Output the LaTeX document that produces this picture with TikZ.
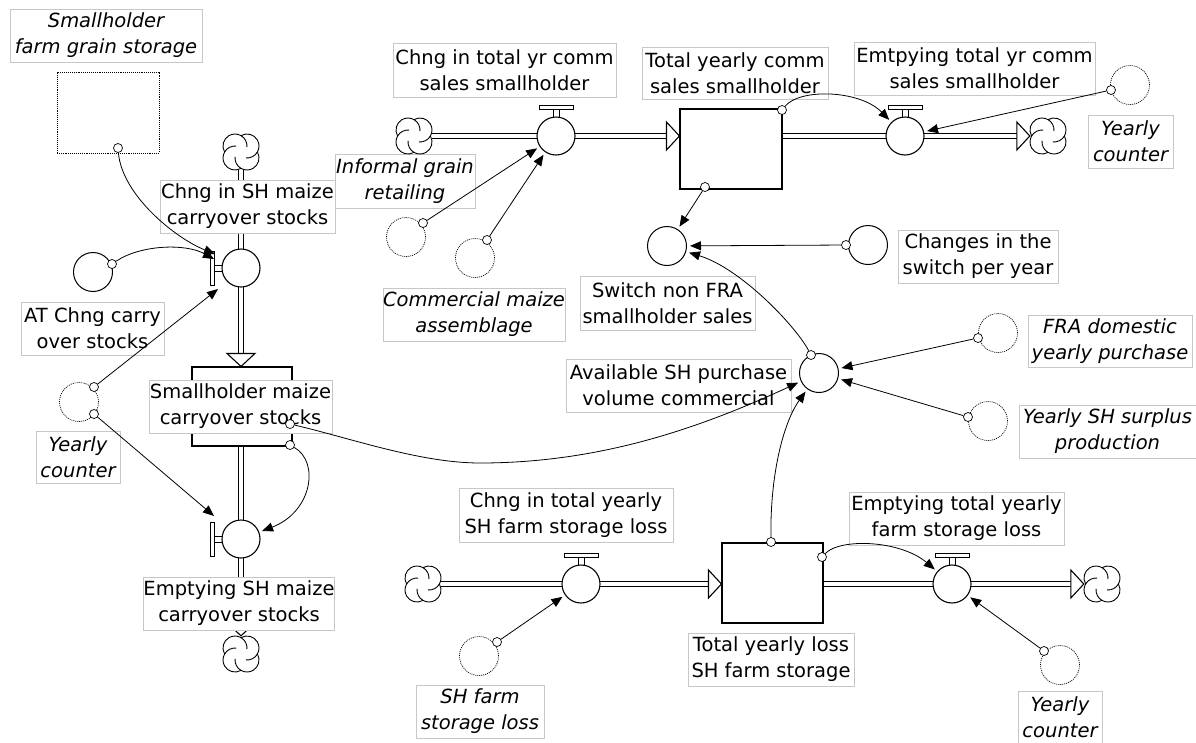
\documentclass[tikz,border=0pt]{standalone}
\usepackage{fontspec}
\setmainfont{DejaVu Sans}
\usetikzlibrary{arrows.meta,calc}
\tikzset{
 lab/.style={draw=black!22, fill=white, line width=0.7pt, inner sep=0pt, align=center, font=\fontsize{19.5}{26}\selectfont},
 ilab/.style={lab, font=\fontsize{19.5}{26}\selectfont\itshape},
 stockbox/.style={draw, fill=white, line width=1.1pt, inner sep=0pt},
 valve/.style={circle, draw, fill=white, line width=1.1pt, minimum size=38pt, inner sep=0pt},
 auxc/.style={circle, draw, fill=white, line width=1pt, minimum size=39pt, inner sep=0pt},
 ghostc/.style={auxc, densely dotted, line width=0.7pt},
 cn/.style={circle, draw, fill=white, line width=0.7pt, minimum size=9pt, inner sep=0pt},
 cloudnode/.style={circle, minimum size=36pt, inner sep=0pt},
 pipe/.style={draw, line width=1.1pt, double=white, double distance=4pt},
 conn/.style={draw, line width=0.8pt, -{Triangle[length=11pt,width=9pt]}, shorten >=3pt},
 cloudpic/.pic={
  \draw[line width=0.9pt, fill=white] (0,-16.39) arc[start angle=240, end angle=390, radius=12]
     arc[start angle=-30, end angle=120, radius=12]
     arc[start angle=60, end angle=210, radius=12]
     arc[start angle=150, end angle=300, radius=12] -- cycle;
  \draw[line width=0.9pt] (16.39,0) arc[start angle=30, end angle=95, radius=12];
  \draw[line width=0.9pt] (0,16.39) arc[start angle=120, end angle=185, radius=12];
  \draw[line width=0.9pt] (-16.39,0) arc[start angle=210, end angle=275, radius=12];
  \draw[line width=0.9pt] (0,-16.39) arc[start angle=300, end angle=365, radius=12];
 },
 pipehead/.pic={\draw[line width=1.1pt, fill=white, line join=miter] (-13,-14) -- (0,0) -- (-13,14) -- cycle;},
 vhandle/.pic={\draw[line width=0.9pt] (-3,-27) -- (-3,-18.5) (3,-27) -- (3,-18.5);
   \draw[line width=0.9pt, fill=white] (-17,-31) rectangle (17,-27);},
}
\begin{document}
\begin{tikzpicture}[x=1pt,y=-1pt]
\useasboundingbox (0,0) rectangle (1196,742);

% clouds (positions)
\node[cloudnode] (c1) at (241,152) {};
\node[cloudnode] (c2) at (241,654) {};
\node[cloudnode] (c3) at (414,136) {};
\node[cloudnode] (c4) at (1048,136) {};
\node[cloudnode] (c5) at (423,584) {};
\node[cloudnode] (c6) at (1102,584) {};

% stocks
\node[stockbox, densely dotted, line width=0.7pt, minimum width=102pt, minimum height=81pt] (sgs) at (108,112.5) {};
\node[stockbox, minimum width=100pt, minimum height=79pt] (smc) at (242,406.5) {};
\node[stockbox, minimum width=102pt, minimum height=80pt] (tyc) at (731,149) {};
\node[stockbox, minimum width=101pt, minimum height=80pt] (tyl) at (772.5,583) {};

% pipes
\draw[pipe] (c1.south) -- ($(c1 |- smc.north)+(0,-13)$);
\pic[rotate=-90] at (c1 |- smc.north) {pipehead};
\draw[pipe] (smc.south -| c2) -- ($(c2.north)+(0,-13)$);
\pic[rotate=-90] at (c2.north) {pipehead};
\draw[pipe] (c3.east) -- ($(c3 -| tyc.west)+(-13,0)$);
\pic at (c3 -| tyc.west) {pipehead};
\draw[pipe] (tyc.east |- c4) -- ($(c4.west)+(-13,0)$);
\pic at (c4.west) {pipehead};
\draw[pipe] (c5.east) -- ($(c5 -| tyl.west)+(-13,0)$);
\pic at (c5 -| tyl.west) {pipehead};
\draw[pipe] (tyl.east |- c6) -- ($(c6.west)+(-13,0)$);
\pic at (c6.west) {pipehead};

% labels
\node[ilab, minimum width=192pt, minimum height=53pt] (L1) at (106,35.5) {Smallholder\\farm grain storage};
\node[lab, minimum width=175pt, minimum height=53pt] (L2) at (247.5,206.5) {Chng in SH maize\\carryover stocks};
\node[lab, minimum width=143pt, minimum height=53pt] (L3) at (92.5,328.5) {AT Chng carry\\over stocks};
\node[ilab, minimum width=84pt, minimum height=52pt] (L4) at (78,457) {Yearly\\counter};
\node[lab, minimum width=183pt, minimum height=53pt] (L5) at (240.5,406.5) {Smallholder maize\\carryover stocks};
\node[lab, minimum width=190pt, minimum height=53pt] (L6) at (239,603.5) {Emptying SH maize\\carryover stocks};
\node[lab, minimum width=223pt, minimum height=54pt] (L7) at (504.5,70) {Chng in total yr comm\\sales smallholder};
\node[lab, minimum width=186pt, minimum height=52pt] (L8) at (735,73) {Total yearly comm\\sales smallholder};
\node[lab, minimum width=241pt, minimum height=53pt] (L9) at (974.5,68.5) {Emtpying total yr comm\\sales smallholder};
\node[ilab, minimum width=85pt, minimum height=53pt] (L10) at (1130.5,141.5) {Yearly\\counter};
\node[ilab, minimum width=140pt, minimum height=54pt] (L11) at (405,181) {Informal grain\\retailing};
\node[ilab, minimum width=182pt, minimum height=53pt] (L12) at (474,314.5) {Commercial maize\\assemblage};
\node[lab, minimum width=175pt, minimum height=54pt] (L13) at (667.5,303) {Switch non FRA\\smallholder sales};
\node[lab, minimum width=160pt, minimum height=53pt] (L14) at (978,256.5) {Changes in the\\switch per year};
\node[lab, minimum width=225pt, minimum height=53pt] (L15) at (678.5,385.5) {Available SH purchase\\volume commercial};
\node[ilab, minimum width=164pt, minimum height=52pt] (L16) at (1110,341) {FRA domestic\\yearly purchase};
\node[ilab, minimum width=177pt, minimum height=53pt] (L17) at (1107.5,431.5) {Yearly SH surplus\\production};
\node[lab, minimum width=214pt, minimum height=54pt] (L18) at (566,515) {Chng in total yearly\\SH farm storage loss};
\node[ilab, minimum width=128pt, minimum height=53pt] (L19) at (480,711.5) {SH farm\\storage loss};
\node[lab, minimum width=166pt, minimum height=53pt] (L20) at (771,659.5) {Total yearly loss\\SH farm storage};
\node[lab, minimum width=215pt, minimum height=53pt] (L21) at (956.5,518.5) {Emptying total yearly\\farm storage loss};
\node[ilab, minimum width=84pt, minimum height=52pt] (L22) at (1060,717) {Yearly\\counter};

% auxiliaries
\node[auxc] (atc) at (93,272) {};
\node[ghostc] (yc1) at (79,402) {};
\node[ghostc] (igr) at (406,237) {};
\node[ghostc] (cma) at (475,258) {};
\node[auxc] (sw) at (667,246) {};
\node[auxc] (chs) at (868,245) {};
\node[auxc] (av) at (819,373) {};
\node[ghostc] (fra) at (998,333) {};
\node[ghostc] (ysp) at (988,421) {};
\node[ghostc] (yc2) at (1130,85) {};
\node[ghostc] (sfl) at (479,656) {};
\node[ghostc] (yc3) at (1060,665) {};

% valve handles and valves
\pic[rotate=90] at (241,268) {vhandle};
\pic[rotate=90] at (241,539) {vhandle};
\pic at (556,136) {vhandle};
\pic at (905,136) {vhandle};
\pic at (581,584) {vhandle};
\pic at (952,584) {vhandle};
\node[valve] (v1) at (241,268) {};
\node[valve] (v2) at (241,539) {};
\node[valve] (v3) at (556,136) {};
\node[valve] (v4) at (905,136) {};
\node[valve] (v5) at (581,584) {};
\node[valve] (v6) at (952,584) {};

% cloud drawings
\pic at (c1) {cloudpic};
\pic at (c2) {cloudpic};
\pic at (c3) {cloudpic};
\pic at (c4) {cloudpic};
\pic at (c5) {cloudpic};
\pic at (c6) {cloudpic};

% connector start circles
\node[cn] (k1) at (118,148) {};
\node[cn] (k2) at (112,264) {};
\node[cn] (k3) at (94,387) {};
\node[cn] (k4) at (94,414) {};
\node[cn] (k5) at (290,424) {};
\node[cn] (k6) at (290,445) {};
\node[cn] (k7) at (782,110) {};
\node[cn] (k8) at (705,187) {};
\node[cn] (k9) at (423,223) {};
\node[cn] (k10) at (487,240) {};
\node[cn] (k11) at (1111,90) {};
\node[cn] (k12) at (846,245) {};
\node[cn] (k13) at (811,355) {};
\node[cn] (k14) at (978,338) {};
\node[cn] (k15) at (968,417) {};
\node[cn] (k16) at (771,542) {};
\node[cn] (k17) at (822,557) {};
\node[cn] (k18) at (497,642) {};
\node[cn] (k19) at (1044,651) {};

\coordinate (t1) at (215,254);
\coordinate (t2) at (214,259);
\coordinate (t3) at (218,289);
\coordinate (t4) at (214,516);

% connectors
\draw[conn, shorten >=0pt] (k1) .. controls (122,195) and (175,238) .. (t1);
\draw[conn, shorten >=0pt] (k2) .. controls (140,245) and (185,243) .. (t2);
\draw[conn, shorten >=0pt] (k3) -- (t3);
\draw[conn, shorten >=0pt] (k4) -- (t4);
\draw[conn] (k5) .. controls (350,438) and (420,463) .. (480,463) .. controls (600,463) and (700,428) .. (av);
\draw[conn] (k6) .. controls (320,462) and (312,512) .. (v2);
\draw[conn] (k7) .. controls (800,88) and (860,90) .. (v4);
\draw[conn] (k8) -- (sw);
\draw[conn] (k9) -- (v3);
\draw[conn] (k10) -- (v3);
\draw[conn] (k11) -- (v4);
\draw[conn] (k12) -- (sw);
\draw[conn] (k13) .. controls (795,325) and (740,268) .. (sw);
\draw[conn] (k14) -- (av);
\draw[conn] (k15) -- (av);
\draw[conn] (k16) .. controls (770,470) and (785,420) .. (av);
\draw[conn] (k17) .. controls (840,538) and (900,540) .. (v6);
\draw[conn] (k18) -- (v5);
\draw[conn] (k19) -- (v6);
\end{tikzpicture}
\end{document}
